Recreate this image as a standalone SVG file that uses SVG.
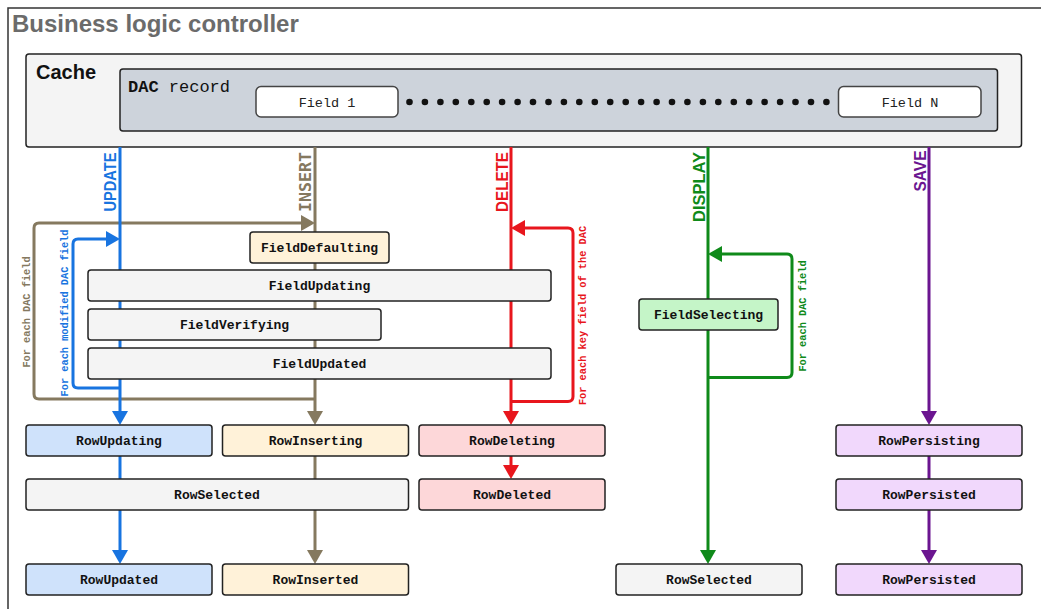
<svg xmlns="http://www.w3.org/2000/svg" width="1041" height="609" viewBox="0 0 1041 609">
  <style>
    .frame { fill: #ffffff; stroke: #333333; stroke-width: 1.5; }
    .title { font-family: "Liberation Sans", Arial, sans-serif; font-weight: bold; font-size: 24px; fill: #6b6b6b; }
    .cache { fill: #f4f4f4; stroke: #222222; stroke-width: 1.5; }
    .cache-label { font-family: "Liberation Sans", Arial, sans-serif; font-weight: bold; font-size: 20px; fill: #111111; }
    .dac { fill: #cdd3db; stroke: #222222; stroke-width: 1.5; }
    .dac-label { font-family: "Liberation Mono", "DejaVu Sans Mono", monospace; font-size: 17px; fill: #111111; }
    .field { fill: #ffffff; stroke: #444444; stroke-width: 1.5; }
    .field-label { font-family: "Liberation Mono", "DejaVu Sans Mono", monospace; font-size: 13.5px; fill: #222222; text-anchor: middle; }
    .dot { fill: #111111; }
    .node rect { stroke: #222222; stroke-width: 1.5; }
    .node text { font-family: "Liberation Mono", "DejaVu Sans Mono", monospace; font-weight: bold; font-size: 13px; fill: #111111; text-anchor: middle; }
    .gray rect { fill: #f4f4f4; }
    .blue rect { fill: #cfe2fb; }
    .cream rect { fill: #fff2d9; }
    .pink rect { fill: #fdd7d9; }
    .green rect { fill: #c5f5c8; }
    .violet rect { fill: #f1d8fc; }
    .wire { fill: none; stroke-width: 3; stroke-linejoin: round; }
    .lane { font-family: "Liberation Sans", Arial, sans-serif; font-weight: bold; font-size: 17px; text-anchor: end; }
    .lane-mono { font-family: "DejaVu Sans Mono", "Liberation Mono", monospace; font-weight: bold; font-size: 16.6px; text-anchor: end; }
    .loop { font-family: "Liberation Mono", "DejaVu Sans Mono", monospace; font-weight: bold; font-size: 10.3px; text-anchor: middle; }
    .c-blue { stroke: #1874e0; fill: none; }
    .c-brown { stroke: #85795f; fill: none; }
    .c-red { stroke: #e8161d; fill: none; }
    .c-green { stroke: #0f8a1a; fill: none; }
    .c-violet { stroke: #6b1590; fill: none; }
    .t-blue { fill: #1874e0; }
    .t-brown { fill: #85795f; }
    .t-red { fill: #e8161d; }
    .t-green { fill: #0f8a1a; }
    .t-violet { fill: #6b1590; }
  </style>
  <defs>
    <marker id="ah-blue" markerUnits="userSpaceOnUse" markerWidth="14" markerHeight="16" refX="0" refY="8" orient="auto" viewBox="0 0 14 16">
      <path d="M0,0 L14,8 L0,16 Z" fill="#1874e0"/>
    </marker>
    <marker id="ah-brown" markerUnits="userSpaceOnUse" markerWidth="14" markerHeight="16" refX="0" refY="8" orient="auto" viewBox="0 0 14 16">
      <path d="M0,0 L14,8 L0,16 Z" fill="#85795f"/>
    </marker>
    <marker id="ah-red" markerUnits="userSpaceOnUse" markerWidth="14" markerHeight="16" refX="0" refY="8" orient="auto" viewBox="0 0 14 16">
      <path d="M0,0 L14,8 L0,16 Z" fill="#e8161d"/>
    </marker>
    <marker id="ah-green" markerUnits="userSpaceOnUse" markerWidth="14" markerHeight="16" refX="0" refY="8" orient="auto" viewBox="0 0 14 16">
      <path d="M0,0 L14,8 L0,16 Z" fill="#0f8a1a"/>
    </marker>
    <marker id="ah-violet" markerUnits="userSpaceOnUse" markerWidth="14" markerHeight="16" refX="0" refY="8" orient="auto" viewBox="0 0 14 16">
      <path d="M0,0 L14,8 L0,16 Z" fill="#6b1590"/>
    </marker>
  </defs>

  <!-- outer controller frame (continues past the right and bottom edges) -->
  <rect class="frame" x="8" y="8" width="1100" height="700"/>
  <text class="title" x="12" y="31.5">Business logic controller</text>

  <!-- cache with the DAC record and its fields -->
  <g id="cache">
    <rect class="cache" x="26" y="54" width="995.5" height="93" rx="3"/>
    <text class="cache-label" x="36" y="78.5">Cache</text>
    <rect class="dac" x="120" y="69" width="877.5" height="62" rx="3"/>
    <text class="dac-label" x="128" y="92"><tspan font-weight="bold">DAC</tspan> record</text>
    <g id="field-1">
      <rect class="field" x="256" y="86.5" width="142" height="30.5" rx="5"/>
      <text class="field-label" x="327" y="106.5">Field 1</text>
    </g>
    <g id="field-dots">
      <circle class="dot" cx="409.5" cy="102" r="3.3"/><circle class="dot" cx="424.9" cy="102" r="3.3"/>
      <circle class="dot" cx="440.4" cy="102" r="3.3"/><circle class="dot" cx="455.8" cy="102" r="3.3"/>
      <circle class="dot" cx="471.3" cy="102" r="3.3"/><circle class="dot" cx="486.7" cy="102" r="3.3"/>
      <circle class="dot" cx="502.1" cy="102" r="3.3"/><circle class="dot" cx="517.6" cy="102" r="3.3"/>
      <circle class="dot" cx="533.0" cy="102" r="3.3"/><circle class="dot" cx="548.5" cy="102" r="3.3"/>
      <circle class="dot" cx="563.9" cy="102" r="3.3"/><circle class="dot" cx="579.3" cy="102" r="3.3"/>
      <circle class="dot" cx="594.8" cy="102" r="3.3"/><circle class="dot" cx="610.2" cy="102" r="3.3"/>
      <circle class="dot" cx="625.7" cy="102" r="3.3"/><circle class="dot" cx="641.1" cy="102" r="3.3"/>
      <circle class="dot" cx="656.6" cy="102" r="3.3"/><circle class="dot" cx="672.0" cy="102" r="3.3"/>
      <circle class="dot" cx="687.4" cy="102" r="3.3"/><circle class="dot" cx="702.9" cy="102" r="3.3"/>
      <circle class="dot" cx="718.3" cy="102" r="3.3"/><circle class="dot" cx="733.8" cy="102" r="3.3"/>
      <circle class="dot" cx="749.2" cy="102" r="3.3"/><circle class="dot" cx="764.6" cy="102" r="3.3"/>
      <circle class="dot" cx="780.1" cy="102" r="3.3"/><circle class="dot" cx="795.5" cy="102" r="3.3"/>
      <circle class="dot" cx="811.0" cy="102" r="3.3"/><circle class="dot" cx="826.4" cy="102" r="3.3"/>
    </g>
    <g id="field-n">
      <rect class="field" x="838.5" y="86.5" width="142.5" height="30.5" rx="5"/>
      <text class="field-label" x="910" y="106.5">Field N</text>
    </g>
  </g>

  <!-- event lanes, loops and arrows -->
  <g id="connectors" class="wire">
    <!-- INSERT -->
    <path class="c-brown" d="M315,399 H39 Q34,399 34,394 V228 Q34,223 39,223 H301" marker-end="url(#ah-brown)"/>
    <path class="c-brown" d="M315,147 V411" marker-end="url(#ah-brown)"/>
    <path class="c-brown" d="M315,456 V479"/>
    <path class="c-brown" d="M315,510 V550" marker-end="url(#ah-brown)"/>
    <!-- UPDATE -->
    <path class="c-blue" d="M120,388 H78 Q73,388 73,383 V244 Q73,239 78,239 H106" marker-end="url(#ah-blue)"/>
    <path class="c-blue" d="M120,147 V411" marker-end="url(#ah-blue)"/>
    <path class="c-blue" d="M120,456 V479"/>
    <path class="c-blue" d="M120,510 V550" marker-end="url(#ah-blue)"/>
    <!-- DELETE -->
    <path class="c-red" d="M511,401.5 H568 Q573,401.5 573,396.5 V233 Q573,228 568,228 H525" marker-end="url(#ah-red)"/>
    <path class="c-red" d="M511,147 V411" marker-end="url(#ah-red)"/>
    <path class="c-red" d="M511,456 V465" marker-end="url(#ah-red)"/>
    <!-- DISPLAY -->
    <path class="c-green" d="M708,377.5 H787 Q792,377.5 792,372.5 V259 Q792,254 787,254 H722" marker-end="url(#ah-green)"/>
    <path class="c-green" d="M708,147 V550" marker-end="url(#ah-green)"/>
    <!-- SAVE -->
    <path class="c-violet" d="M929,147 V411" marker-end="url(#ah-violet)"/>
    <path class="c-violet" d="M929,456 V479"/>
    <path class="c-violet" d="M929,510 V550" marker-end="url(#ah-violet)"/>

    <!-- lane names -->
    <text class="lane t-blue" transform="translate(116,152.5) rotate(-90)" textLength="59" lengthAdjust="spacingAndGlyphs">UPDATE</text>
    <text class="lane-mono t-brown" transform="translate(310.5,152) rotate(-90)">INSERT</text>
    <text class="lane t-red" transform="translate(507.5,152) rotate(-90)" textLength="60" lengthAdjust="spacingAndGlyphs">DELETE</text>
    <text class="lane t-green" transform="translate(705,152) rotate(-90)" textLength="70" lengthAdjust="spacingAndGlyphs">DISPLAY</text>
    <text class="lane t-violet" transform="translate(926,150.5) rotate(-90)" textLength="41" lengthAdjust="spacingAndGlyphs">SAVE</text>

    <!-- loop captions -->
    <text class="loop t-brown" stroke="none" transform="translate(30,312) rotate(-90)">For each DAC field</text>
    <text class="loop t-blue" stroke="none" transform="translate(68,313) rotate(-90)">For each modified DAC field</text>
    <text class="loop t-red" stroke="none" transform="translate(586,315.5) rotate(-90)">For each key field of the DAC</text>
    <text class="loop t-green" stroke="none" transform="translate(805.5,316) rotate(-90)">For each DAC field</text>
  </g>

  <!-- field-level events -->
  <g id="field-defaulting" class="node cream">
    <rect x="250" y="232" width="139" height="31" rx="3"/>
    <text x="319.5" y="252">FieldDefaulting</text>
  </g>
  <g id="field-updating" class="node gray">
    <rect x="88" y="270" width="463" height="31" rx="3"/>
    <text x="319.5" y="290">FieldUpdating</text>
  </g>
  <g id="field-verifying" class="node gray">
    <rect x="88" y="309" width="293" height="31" rx="3"/>
    <text x="234.5" y="329">FieldVerifying</text>
  </g>
  <g id="field-updated" class="node gray">
    <rect x="88" y="348" width="463" height="31" rx="3"/>
    <text x="319.5" y="368">FieldUpdated</text>
  </g>
  <g id="field-selecting" class="node green">
    <rect x="639" y="299" width="139" height="31" rx="3"/>
    <text x="708.5" y="319">FieldSelecting</text>
  </g>

  <!-- row-level events -->
  <g id="row-updating" class="node blue">
    <rect x="26" y="425" width="186" height="31" rx="3"/>
    <text x="119" y="445">RowUpdating</text>
  </g>
  <g id="row-inserting" class="node cream">
    <rect x="222.5" y="425" width="186" height="31" rx="3"/>
    <text x="315.5" y="445">RowInserting</text>
  </g>
  <g id="row-deleting" class="node pink">
    <rect x="419" y="425" width="186" height="31" rx="3"/>
    <text x="512" y="445">RowDeleting</text>
  </g>
  <g id="row-persisting" class="node violet">
    <rect x="836" y="425" width="186" height="31" rx="3"/>
    <text x="929" y="445">RowPersisting</text>
  </g>
  <g id="row-selected-edit" class="node gray">
    <rect x="26" y="479" width="382.5" height="31" rx="3"/>
    <text x="217" y="499">RowSelected</text>
  </g>
  <g id="row-deleted" class="node pink">
    <rect x="419" y="479" width="186" height="31" rx="3"/>
    <text x="512" y="499">RowDeleted</text>
  </g>
  <g id="row-persisted-1" class="node violet">
    <rect x="836" y="479" width="186" height="31" rx="3"/>
    <text x="929" y="499">RowPersisted</text>
  </g>
  <g id="row-updated" class="node blue">
    <rect x="26" y="564" width="186" height="31" rx="3"/>
    <text x="119" y="584">RowUpdated</text>
  </g>
  <g id="row-inserted" class="node cream">
    <rect x="222.5" y="564" width="186" height="31" rx="3"/>
    <text x="315.5" y="584">RowInserted</text>
  </g>
  <g id="row-selected-display" class="node gray">
    <rect x="616" y="564" width="186" height="31" rx="3"/>
    <text x="709" y="584">RowSelected</text>
  </g>
  <g id="row-persisted-2" class="node violet">
    <rect x="836" y="564" width="186" height="31" rx="3"/>
    <text x="929" y="584">RowPersisted</text>
  </g>
</svg>
